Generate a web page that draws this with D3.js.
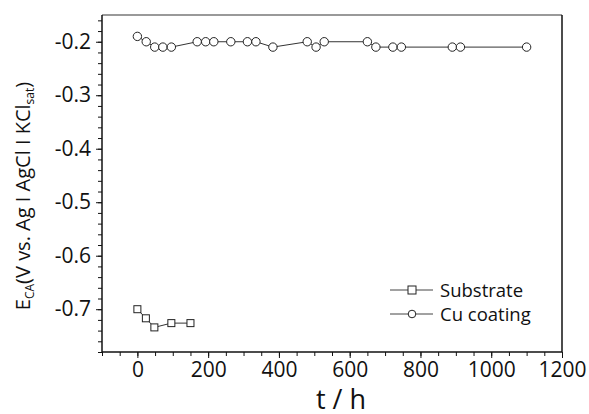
<!DOCTYPE html>
<html>
<head>
<meta charset="utf-8">
<script src="https://cdn.jsdelivr.net/npm/d3@7"></script>
<style>
  body { margin: 0; background: #fff; }
  text { font-family: "Open Sans", "Noto Sans", sans-serif; fill: #111; }
</style>
</head>
<body>
<svg id="chart" width="589" height="414"></svg>
<script>
// data
var substrateT = [0, 24, 48, 96, 150];
var substrateE = [-0.700, -0.717, -0.734, -0.726, -0.726];

var coatingT = [0, 25, 49, 72, 96, 169, 193, 216, 264, 311, 335, 383, 480, 505, 528, 650, 674, 722, 746, 890, 913, 1100];
var coatingE = [-0.19, -0.20, -0.21, -0.21, -0.21, -0.20, -0.20, -0.20, -0.20, -0.20, -0.20, -0.21,
                -0.20, -0.21, -0.20, -0.20, -0.21, -0.21, -0.21, -0.21, -0.21, -0.21];

var xTicks = [0, 200, 400, 600, 800, 1000, 1200];
var yTicks = [-0.2, -0.3, -0.4, -0.5, -0.6, -0.7];
var legendNames = ["Substrate", "Cu coating"];

var margin = { top: 15, right: 27, bottom: 62, left: 102 },
    w = 589 - margin.left - margin.right,
    h = 414 - margin.top - margin.bottom;

var svg = d3.select("#chart");
var g = svg.append("g").attr("transform", "translate(" + margin.left + "," + margin.top + ")");

var x = d3.scaleLinear().domain([-100, 1200]).range([0, w]);
var y = d3.scaleLinear().domain([-0.78, -0.15]).range([h, 0]);

// minor ticks
var xMinor = d3.range(-100, 1201, 50);
var yMinor = d3.range(-78, -14, 2).map(function(d) { return d / 100; });

g.append("g")
 .attr("transform", "translate(0," + h + ")")
 .call(d3.axisBottom(x).tickValues(xMinor).tickSize(4).tickFormat(""))
 .call(function(s) { s.select(".domain").remove(); s.selectAll("line").attr("stroke", "#111"); });

g.append("g")
 .call(d3.axisLeft(y).tickValues(yMinor).tickSize(4).tickFormat(""))
 .call(function(s) { s.select(".domain").remove(); s.selectAll("line").attr("stroke", "#111"); });

// major ticks + labels (plain hyphen for the minus, like the original)
var xAxis = g.append("g")
 .attr("transform", "translate(0," + h + ")")
 .call(d3.axisBottom(x).tickValues(xTicks).tickSize(6).tickPadding(4).tickFormat(function(d) { return String(d); }));
xAxis.select(".domain").remove();
xAxis.selectAll("line").attr("stroke", "#111");
xAxis.selectAll("text").style("font-size", "21px").attr("fill", "#111");

var yAxis = g.append("g")
 .call(d3.axisLeft(y).tickValues(yTicks).tickSize(6).tickPadding(5).tickFormat(function(d) { return d.toFixed(1); }));
yAxis.select(".domain").remove();
yAxis.selectAll("line").attr("stroke", "#111");
yAxis.selectAll("text").style("font-size", "21px").attr("fill", "#111");

// frame
g.append("line").attr("x1", 0).attr("x2", w).attr("y1", 0).attr("y2", 0).attr("stroke", "#777").attr("stroke-width", 1.5);
g.append("line").attr("x1", w).attr("x2", w).attr("y1", 0).attr("y2", h).attr("stroke", "#111").attr("stroke-width", 1.5);
g.append("line").attr("x1", 0).attr("x2", 0).attr("y1", 0).attr("y2", h).attr("stroke", "#111").attr("stroke-width", 1.5);
g.append("line").attr("x1", 0).attr("x2", w).attr("y1", h).attr("y2", h).attr("stroke", "#111").attr("stroke-width", 1.5);

var line = d3.line().x(function(d) { return x(d[0]); }).y(function(d) { return y(d[1]); });

var subData = d3.zip(substrateT, substrateE);
var coatData = d3.zip(coatingT, coatingE);

g.append("path").datum(subData).attr("d", line).attr("fill", "none").attr("stroke", "#333").attr("stroke-width", 1);
g.append("path").datum(coatData).attr("d", line).attr("fill", "none").attr("stroke", "#333").attr("stroke-width", 1);

g.selectAll(".sq").data(subData).enter().append("rect")
 .attr("x", function(d) { return x(d[0]) - 3.5; })
 .attr("y", function(d) { return y(d[1]) - 3.5; })
 .attr("width", 7).attr("height", 7)
 .attr("fill", "#fff").attr("stroke", "#222").attr("stroke-width", 1);

g.selectAll(".ci").data(coatData).enter().append("circle")
 .attr("cx", function(d) { return x(d[0]); })
 .attr("cy", function(d) { return y(d[1]); })
 .attr("r", 4.2)
 .attr("fill", "#fff").attr("stroke", "#222").attr("stroke-width", 1);

// legend
var leg = svg.append("g").attr("transform", "translate(390,290)");
legendNames.forEach(function(name, i) {
  var row = leg.append("g").attr("transform", "translate(0," + (i * 24) + ")");
  row.append("line").attr("x1", 0).attr("x2", 43).attr("y1", 0).attr("y2", 0).attr("stroke", "#444");
  if (i === 0) {
    row.append("rect").attr("x", 18).attr("y", -4).attr("width", 8).attr("height", 8)
       .attr("fill", "#fff").attr("stroke", "#222");
  } else {
    row.append("circle").attr("cx", 22).attr("cy", 0).attr("r", 3.8)
       .attr("fill", "#fff").attr("stroke", "#222");
  }
  row.append("text").attr("x", 50).attr("y", 6.5).style("font-size", "18.5px").text(name);
});

// axis titles
svg.append("text")
 .attr("x", 341).attr("y", 409)
 .attr("text-anchor", "middle")
 .style("font-size", "27px")
 .text("t / h");

var yl = svg.append("text")
 .attr("transform", "translate(30,196) rotate(-90)")
 .attr("text-anchor", "middle")
 .style("font-size", "20px");
yl.append("tspan").text("E");
yl.append("tspan").attr("dy", 4).style("font-size", "12px").text("CA");
yl.append("tspan").attr("dy", -4).text("(V vs. Ag I AgCl I KCl");
yl.append("tspan").attr("dy", 4).style("font-size", "12px").text("sat");
yl.append("tspan").attr("dy", -4).text(")");
</script>
</body>
</html>
